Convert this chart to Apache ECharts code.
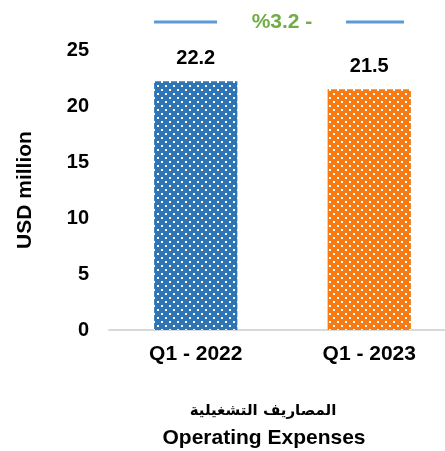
<!DOCTYPE html>
<html lang="ar">
<head>
<meta charset="UTF-8">
<title>Operating Expenses</title>
<script type="text/javascript" src="https://cdn.jsdelivr.net/npm/echarts@6/dist/echarts.min.js"></script>
<style type="text/css">
	html, body { margin: 0; padding: 0; background: #fff; }
	#chart { width: 445px; height: 451px; }
</style>
</head>
<body>
<div id="chart"></div>
<script type="text/javascript">
	// data
	var categories = ['Q1 - 2022', 'Q1 - 2023'];
	var values = [22.2, 21.5];
	var barColors = ['#2e75b6', '#f57b14'];
	var yTicks = [0, 5, 10, 15, 20, 25];
	var changeLabel = '%3.2 -';

	// dotted fill like the excel pattern
	function dots(color){
		var c = document.createElement('canvas');
		c.width = 8; c.height = 8;
		var ctx = c.getContext('2d');
		ctx.fillStyle = color;
		ctx.fillRect(0, 0, 8, 8);
		ctx.fillStyle = '#fff';
		ctx.fillRect(1, 1, 2, 2);
		ctx.fillRect(5, 5, 2, 2);
		return { image: c, repeat: 'repeat' };
	}

	var font = '"Liberation Sans", Arial, "DejaVu Sans", sans-serif';
	var chart = echarts.init(document.getElementById('chart'));
	var option = {
		animation: false,
		textStyle: { fontFamily: font },
		grid: { left: 109, top: 50, width: 347, bottom: 121, outerBoundsMode: 'none' },
		title: [{
			text: changeLabel,
			left: 282, top: 12, padding: 0, textAlign: 'center',
			textStyle: { color: '#70ad47', fontSize: 21, fontWeight: 'bold', fontFamily: font }
		}, {
			text: 'المصاريف التشغيلية',
			left: 263, top: 404, padding: 0, textAlign: 'center',
			textStyle: { color: '#000', fontSize: 15, fontWeight: 'bold', fontFamily: '"DejaVu Sans", sans-serif' }
		}, {
			text: 'Operating Expenses',
			left: 264, top: 428, padding: 0, textAlign: 'center',
			textStyle: { color: '#000', fontSize: 21, fontWeight: 'bold', fontFamily: font }
		}],
		graphic: [
			{ type: 'line', shape: { x1: 154, y1: 22, x2: 217, y2: 22 }, style: { stroke: '#5b9bd5', lineWidth: 3 } },
			{ type: 'line', shape: { x1: 346, y1: 22, x2: 404, y2: 22 }, style: { stroke: '#5b9bd5', lineWidth: 3 } }
		],
		xAxis: {
			type: 'category',
			data: categories,
			axisLine: { lineStyle: { color: '#d9d9d9', width: 2 } },
			axisTick: { show: false },
			axisLabel: { color: '#000', fontSize: 21, fontWeight: 'bold', margin: 14 }
		},
		yAxis: {
			type: 'value',
			min: yTicks[0], max: yTicks[yTicks.length - 1], interval: 5,
			name: 'USD million',
			nameLocation: 'middle',
			nameGap: 73,
			nameTextStyle: { color: '#000', fontSize: 21, fontWeight: 'bold' },
			axisLine: { show: false },
			axisTick: { show: false },
			splitLine: { show: false },
			axisLabel: { color: '#000', fontSize: 20, fontWeight: 'bold', margin: 20 }
		},
		series: [{
			type: 'bar',
			barWidth: '48%',
			data: values.map(function(v, i){
				return { value: v, itemStyle: { color: dots(barColors[i]) } };
			}),
			label: {
				show: true, position: 'top', distance: 13,
				color: '#000', fontSize: 20, fontWeight: 'bold'
			}
		}]
	};
	chart.setOption(option);
</script>
</body>
</html>
